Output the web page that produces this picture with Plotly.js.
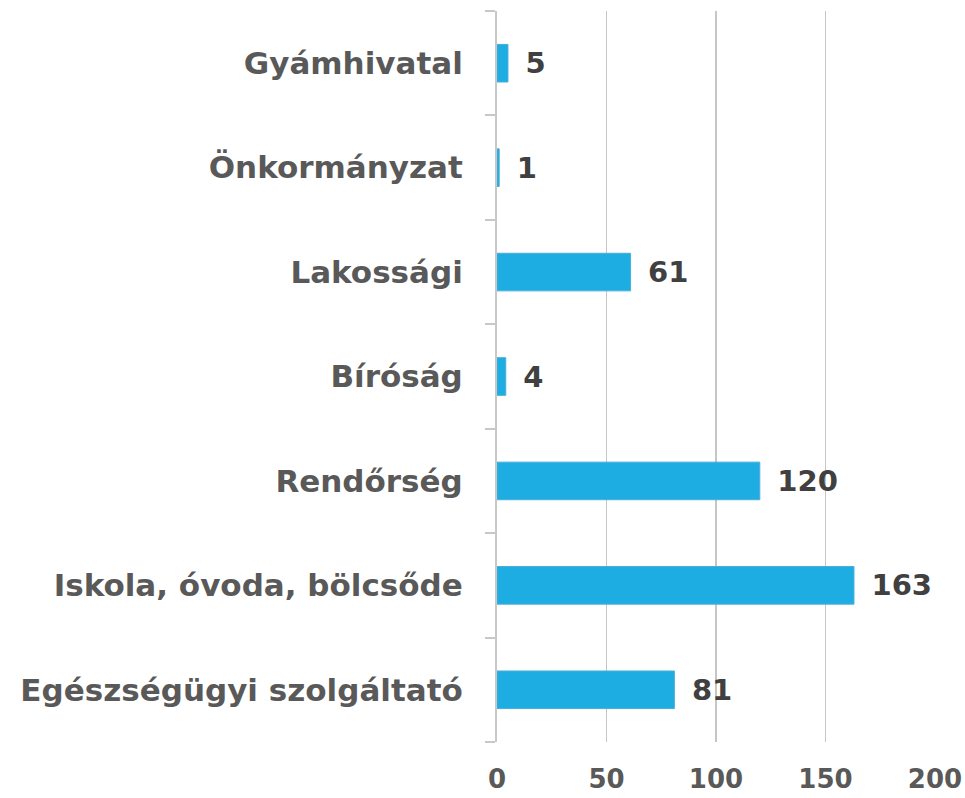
<!DOCTYPE html>
<html>
<head>
<meta charset="utf-8">
<script src="https://cdn.plot.ly/plotly-3.0.1.min.js"></script>
<style>html,body{margin:0;padding:0;background:#fff;}#chart{width:965px;height:798px;}</style>
</head>
<body>
<div id="chart"></div>
<script>
const categories = ["Egészségügyi szolgáltató", "Iskola, óvoda, bölcsőde", "Rendőrség", "Bíróság", "Lakossági", "Önkormányzat", "Gyámhivatal"];
const values = [81, 163, 120, 4, 61, 1, 5];
const xTicks = [0, 50, 100, 150, 200];

const FONT = "DejaVu Sans, sans-serif";

const trace = {
  type: "bar",
  orientation: "h",
  y: categories,
  x: values,
  marker: {color: "#1eade3", line: {color: "#4aaed6", width: 1}},
  texttemplate: "\u2002%{x}",
  textposition: "outside",
  cliponaxis: false,
  textfont: {family: FONT, size: 29, color: "#404040", weight: "bold"},
  hoverinfo: "none"
};

const layout = {
  width: 965, height: 798,
  margin: {l: 497, r: 30, t: 11, b: 56},
  paper_bgcolor: "#fff", plot_bgcolor: "#fff",
  showlegend: false,
  bargap: 0.64,
  xaxis: {
    range: [0, 200],
    tickvals: xTicks,
    ticktext: xTicks.map(String),
    showgrid: true, gridcolor: "#c6c6c6", gridwidth: 1.5,
    zeroline: false, showline: false,
    ticks: "",
    ticklabelstandoff: 19,
    tickfont: {family: FONT, size: 26, color: "#595959", weight: "bold"},
    fixedrange: true
  },
  yaxis: {
    type: "category",
    categoryorder: "array", categoryarray: categories,
    showline: true, linecolor: "#c8c8c8", linewidth: 2,
    ticks: "outside", tickson: "boundaries", ticklen: 10, tickcolor: "#c8c8c8", tickwidth: 2,
    showgrid: false, zeroline: false,
    ticklabelstandoff: 26,
    tickfont: {family: FONT, size: 31, color: "#595959", weight: "bold"},
    fixedrange: true
  }
};

Plotly.newPlot("chart", [trace], layout, {displayModeBar: false, staticPlot: true});
</script>
</body>
</html>
